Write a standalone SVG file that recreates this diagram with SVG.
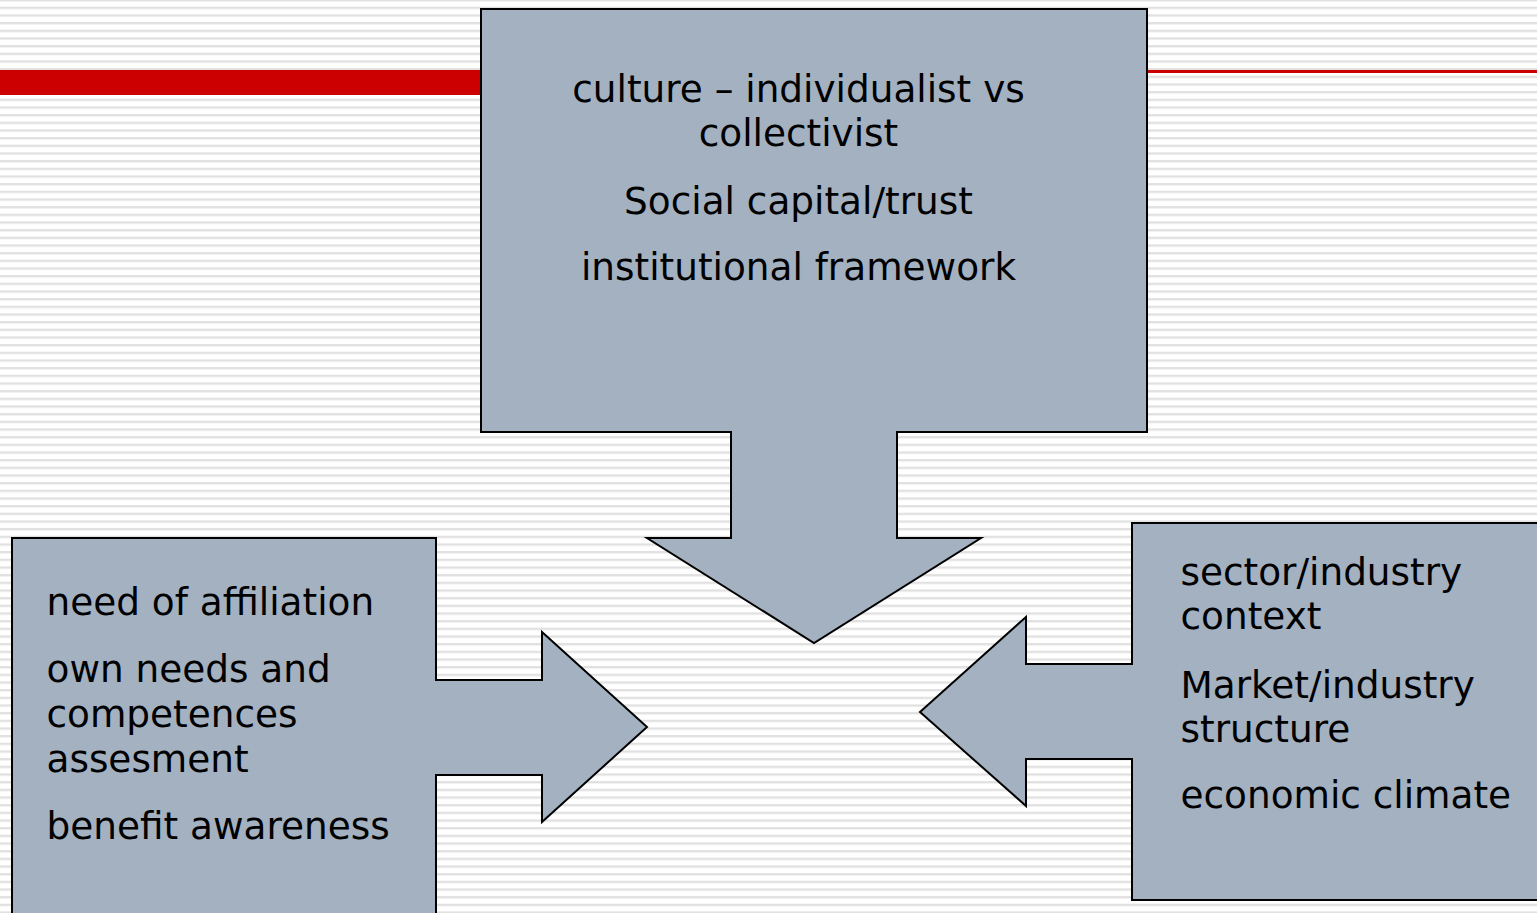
<svg xmlns="http://www.w3.org/2000/svg" width="1537" height="913" viewBox="0 0 1537 913">
  <defs>
    <pattern id="stripes" patternUnits="userSpaceOnUse" x="0" y="6.7" width="20" height="7.667">
      <rect x="0" y="0" width="20" height="7.667" fill="#ffffff"/>
      <rect x="0" y="0" width="20" height="2" fill="#e1e1e1"/>
      <rect x="0" y="2" width="20" height="0.8" fill="#efefef"/>
    </pattern>
    <style>
      .shape { fill: #a3b1c1; stroke: #000000; stroke-width: 2; stroke-linejoin: miter; }
      .lbl { font-family: "DejaVu Sans", Verdana, sans-serif; font-size: 37.4px; fill: #000000; }
      .mid { text-anchor: middle; }
    </style>
  </defs>
  <rect x="0" y="0" width="1537" height="913" fill="url(#stripes)"/>
  <g id="decor">
    <rect x="0" y="70" width="485" height="25" fill="#cc0000"/>
    <rect x="1145" y="70" width="392" height="3" fill="#cc0000"/>
  </g>
  <g id="connectors"></g>
  <g id="top-node">
    <polygon class="shape" points="481,9 1147,9 1147,432 897,432 897,538 981,538 814,643 647,538 731,538 731,432 481,432"/>
    <text class="lbl mid" x="798.5" y="101.5">culture – individualist vs</text>
    <text class="lbl mid" x="798.5" y="145.5">collectivist</text>
    <text class="lbl mid" x="798.5" y="213.5">Social capital/trust</text>
    <text class="lbl mid" x="798.5" y="279.5">institutional framework</text>
  </g>
  <g id="left-node">
    <polygon class="shape" points="12,538 436,538 436,680 542,680 542,632 647,727 542,822 542,775 436,775 436,925 12,925"/>
    <text class="lbl" x="46.5" y="614.5">need of affiliation</text>
    <text class="lbl" x="46.5" y="681.5">own needs and</text>
    <text class="lbl" x="46.5" y="726.5">competences</text>
    <text class="lbl" x="46.5" y="771.5">assesment</text>
    <text class="lbl" x="46.5" y="838.5">benefit awareness</text>
  </g>
  <g id="right-node">
    <polygon class="shape" points="1132,523 1550,523 1550,900 1132,900 1132,759 1026,759 1026,806 920,712 1026,617 1026,664 1132,664"/>
    <text class="lbl" x="1180.5" y="584.5">sector/industry</text>
    <text class="lbl" x="1180.5" y="628.5">context</text>
    <text class="lbl" x="1180.5" y="697.5">Market/industry</text>
    <text class="lbl" x="1180.5" y="741.5">structure</text>
    <text class="lbl" x="1180.5" y="807.5">economic climate</text>
  </g>
</svg>
